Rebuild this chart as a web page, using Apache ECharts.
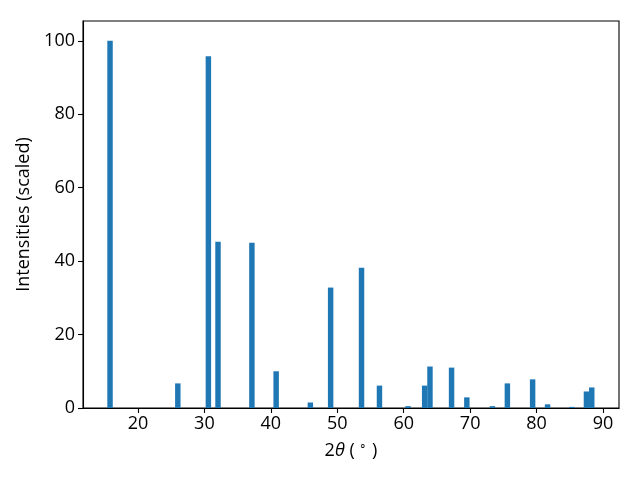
<!DOCTYPE html>
<html><head><meta charset="utf-8">
<script src="https://cdn.jsdelivr.net/npm/echarts@6/dist/echarts.min.js"></script>
<style>html,body{margin:0;padding:0;background:#fff}#c{width:640px;height:480px}</style>
</head><body><div id="c"></div>
<script>
const twoTheta = [15.8, 26.0, 30.6, 32.05, 37.15, 40.8, 45.95, 49.0, 53.65, 56.35, 60.65, 63.15, 63.95, 67.2, 69.5, 73.35, 75.6, 79.4, 81.65, 85.3, 87.5, 88.3];
const intensity = [100, 6.7, 95.8, 45.3, 45.0, 10.0, 1.5, 32.8, 38.2, 6.1, 0.5, 6.1, 11.3, 11.0, 2.9, 0.5, 6.7, 7.8, 1.0, 0.3, 4.5, 5.6];
const xTicks = [20, 30, 40, 50, 60, 70, 80, 90];
const yTicks = [0, 20, 40, 60, 80, 100];
const barW = 0.82;

const chart = echarts.init(document.getElementById('c'), null, {renderer: 'canvas'});
const font = 'Open Sans';
const fs = 18;
chart.setOption({
  animation: false,
  grid: {left: 83, right: 21, top: 21, bottom: 72, show: true, borderColor: '#000', borderWidth: 1.1, backgroundColor: 'transparent'},
  xAxis: {
    type: 'value', min: 11.73, max: 92.4,
    splitLine: {show: false},
    axisLine: {show: true, onZero: false, lineStyle: {color: '#000', width: 1.1}},
    axisTick: {show: true, customValues: xTicks, length: 5, lineStyle: {color: '#000', width: 1.1}},
    axisLabel: {customValues: xTicks, color: '#000', fontFamily: font, fontSize: fs, margin: 7},
    name: '2{i|θ} ( {s|∘} )', nameLocation: 'middle', nameGap: 33,
    nameTextStyle: {color: '#000', fontFamily: font, fontSize: fs,
      rich: {i: {fontStyle: 'italic', fontFamily: font, fontSize: fs, color: '#000'},
             s: {fontSize: 12, fontFamily: font, color: '#000', verticalAlign: 'top', padding: [0,0,7,0]}}}
  },
  yAxis: {
    type: 'value', min: 0, max: 105.4,
    splitLine: {show: false},
    axisLine: {show: true, lineStyle: {color: '#000', width: 1.1}},
    axisTick: {show: true, customValues: yTicks, length: 5, lineStyle: {color: '#000', width: 1.1}},
    axisLabel: {customValues: yTicks, color: '#000', fontFamily: font, fontSize: fs, margin: 8},
    name: 'Intensities (scaled)', nameLocation: 'middle', nameGap: 49, nameRotate: 90,
    nameTextStyle: {color: '#000', fontFamily: font, fontSize: fs}
  },
  series: [{
    type: 'custom',
    data: twoTheta.map((x, i) => [x, intensity[i]]),
    renderItem: function (params, api) {
      const x = api.value(0), y = api.value(1);
      const p0 = api.coord([x - barW / 2, y]);
      const p1 = api.coord([x + barW / 2, 0]);
      return {type: 'rect', shape: {x: p0[0], y: p0[1], width: p1[0] - p0[0], height: p1[1] - p0[1]},
        style: {fill: '#1f77b4'}};
    }
  }]
});
</script></body></html>
